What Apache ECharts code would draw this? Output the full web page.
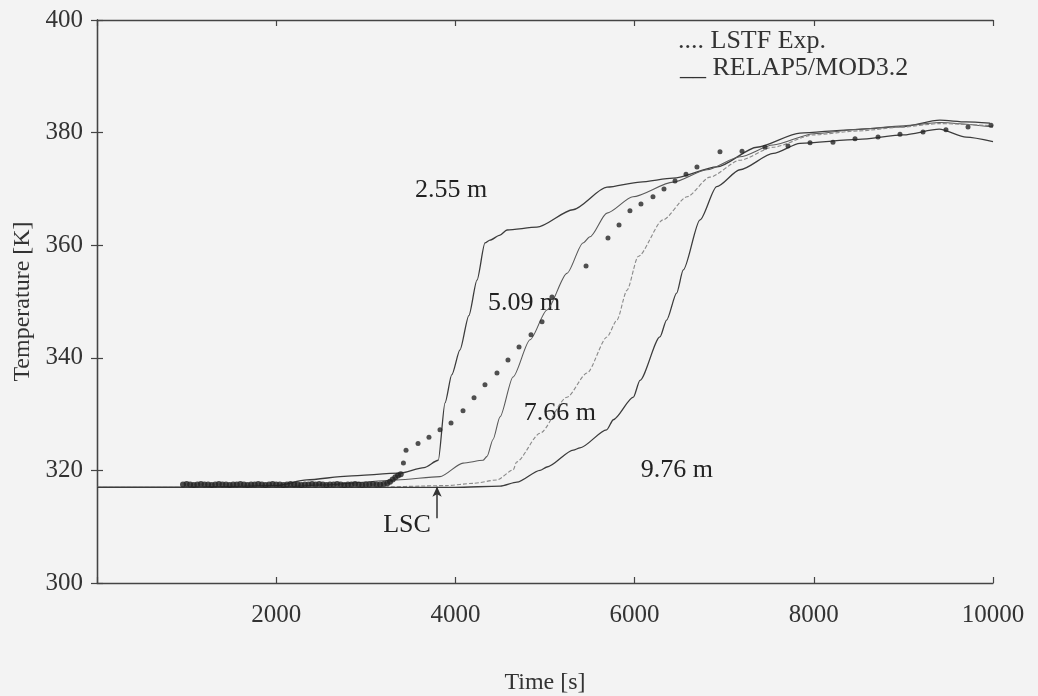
<!DOCTYPE html>
<html><head><meta charset="utf-8">
<script src="https://cdn.jsdelivr.net/npm/echarts@6/dist/echarts.min.js"></script>
<style>html,body{margin:0;padding:0;background:#f3f3f3}#c{width:1038px;height:696px}</style>
</head><body><div id="c"></div>
<script>
// ---- data (time in s, temperature in K) ----
const xTicks = [0, 2000, 4000, 6000, 8000, 10000];
const yTicks = [300, 320, 340, 360, 380, 400];

const t255 = [0, 1000, 2000, 2340, 2800, 3380, 3650, 3809, 3884, 3960, 4051, 4150, 4241, 4330, 4386, 4498, 4576, 4910, 5312, 5692, 6060, 6429, 6919, 7366, 7846, 8400, 8962, 9408, 9700, 9966];
const T255 = [317, 317, 317.3, 318.3, 319, 319.5, 320.5, 321.8, 332, 337, 341.4, 347.5, 353.8, 360.4, 360.9, 361.8, 362.7, 363.2, 366.3, 370.3, 371.2, 371.9, 373.9, 377.4, 379.9, 380.5, 381, 382.2, 381.9, 381.7];

const t509 = [0, 2000, 2500, 3348, 3828, 4085, 4308, 4353, 4420, 4498, 4643, 4833, 5022, 5245, 5424, 5502, 5692, 5982, 6429, 6808, 7176, 7545, 8000, 8500, 9000, 9400, 10000];
const T509 = [317, 317, 317.4, 318.3, 318.9, 321.3, 321.8, 322.5, 325.5, 329.5, 336.6, 343.2, 348.5, 355, 360.4, 361.5, 365.7, 368.6, 371.2, 373.4, 375.7, 377.8, 379.8, 380.6, 381.2, 381.8, 381];

const t766 = [0, 3000, 3900, 4200, 4464, 4646, 4683, 4944, 5245, 5469, 5692, 5803, 5915, 6040, 6317, 6585, 6841, 7176, 7545, 8000, 8500, 9000, 9400, 10000];
const T766 = [317, 317, 317.3, 317.7, 318.3, 320.1, 321.5, 326.6, 333, 337.3, 343.7, 346.7, 352, 358, 364.5, 368.6, 372.1, 375.1, 377.4, 379.6, 380.3, 381, 381.6, 381.2];

const t976 = [0, 4000, 4500, 4687, 4944, 5022, 5316, 5390, 5688, 5763, 5986, 6060, 6283, 6357, 6469, 6543, 6730, 6916, 7176, 7548, 7846, 8500, 9000, 9400, 9700, 10000];
const T976 = [317, 317, 317.2, 317.9, 320, 320.6, 323.6, 324, 327.2, 329, 333, 336, 343.7, 346.7, 351.5, 355.6, 364.5, 370.4, 373.4, 376.3, 378.1, 378.8, 379.6, 380.6, 379.2, 378.4];

// LSTF experiment: dense early record (thick band) and later sparse points
const tExpBand = [960, 1000, 1040, 1080, 1120, 1160, 1200, 1240, 1280, 1320, 1360, 1400, 1440, 1480, 1520, 1560, 1600, 1640, 1680, 1720, 1760, 1800, 1840, 1880, 1920, 1960, 2000, 2040, 2080, 2120, 2160, 2200, 2240, 2280, 2320, 2360, 2400, 2440, 2480, 2520, 2560, 2600, 2640, 2680, 2720, 2760, 2800, 2840, 2880, 2920, 2960, 3000, 3040, 3080, 3120, 3160, 3200, 3240, 3270, 3300, 3330, 3360, 3390];
const TExpBand = [317.5, 317.6, 317.5, 317.4, 317.5, 317.6, 317.5, 317.5, 317.4, 317.5, 317.6, 317.5, 317.5, 317.4, 317.5, 317.5, 317.6, 317.5, 317.4, 317.5, 317.5, 317.6, 317.5, 317.4, 317.5, 317.6, 317.5, 317.5, 317.4, 317.5, 317.6, 317.5, 317.5, 317.4, 317.5, 317.5, 317.6, 317.5, 317.6, 317.5, 317.4, 317.5, 317.5, 317.6, 317.5, 317.4, 317.5, 317.5, 317.6, 317.5, 317.4, 317.5, 317.5, 317.6, 317.5, 317.5, 317.6, 317.7, 318.0, 318.4, 318.8, 319.1, 319.3];
const tExp = [3420, 3449, 3583, 3705, 3828, 3951, 4085, 4208, 4330, 4464, 4587, 4710, 4844, 4967, 5078, 5458, 5703, 5826, 5948, 6071, 6205, 6328, 6451, 6574, 6696, 6953, 7199, 7455, 7712, 7958, 8214, 8460, 8717, 8962, 9219, 9475, 9721, 9978];
const TExp = [321.3, 323.6, 324.8, 325.9, 327.2, 328.4, 330.6, 332.9, 335.2, 337.3, 339.6, 341.9, 344.1, 346.4, 350.8, 356.3, 361.3, 363.6, 366.1, 367.3, 368.6, 370, 371.4, 372.6, 373.9, 376.6, 376.7, 377.4, 377.6, 378.2, 378.3, 378.9, 379.2, 379.7, 380.1, 380.5, 381, 381.3];

const annNames = ['2.55 m', '5.09 m', '7.66 m', '9.76 m', 'LSC'];
const annTime = [3951, 4766, 5167, 6473, 3460];
const annTemp = [369.8, 349.7, 330.2, 320.1, 310.3];
const lscArrow = [[3795, 311.5], [3795, 317.1]];

// ---- chart ----
const FONT = 'Liberation Serif';
const INK = '#333';
const zip = (a, b) => a.map((v, i) => [v, b[i]]);
const chart = echarts.init(document.getElementById('c'));

const axisCommon = {
  axisLine: { show: true, lineStyle: { color: '#444', width: 1.3 } },
  axisTick: { show: true, inside: true, length: 6, lineStyle: { color: '#444', width: 1.2 } },
  splitLine: { show: false }
};

const lineSeries = (name, t, T, color, width, type) => ({
  name, type: 'line', data: zip(t, T), showSymbol: false, symbol: 'none',
  smooth: 0.25, smoothMonotone: 'x',
  lineStyle: { color, width, type }, z: 3, silent: true
});

chart.setOption({
  backgroundColor: '#f3f3f3',
  animation: false,
  grid: { left: 97, right: 45, top: 20, bottom: 113, containLabel: false, outerBoundsMode: 'none' },
  xAxis: [
    Object.assign({}, axisCommon, {
      type: 'value', min: 0, max: 10000, interval: 2000, position: 'bottom',
      axisLabel: { formatter: v => (v === 0 ? '' : String(v)), fontFamily: FONT, fontSize: 25, color: INK, margin: 20 },
      name: 'Time [s]', nameLocation: 'middle', nameGap: 88,
      nameTextStyle: { fontFamily: FONT, fontSize: 24, color: INK }
    }),
    Object.assign({}, axisCommon, {
      type: 'value', min: 0, max: 10000, interval: 2000, position: 'top',
      axisLabel: { show: false }
    })
  ],
  yAxis: [
    Object.assign({}, axisCommon, {
      type: 'value', min: 300, max: 400, interval: 20, position: 'left',
      axisLabel: { fontFamily: FONT, fontSize: 25, color: INK, margin: 14 },
      name: 'Temperature [K]', nameLocation: 'middle', nameGap: 52,
      nameTextStyle: { fontFamily: FONT, fontSize: 24, color: INK }
    }),
    Object.assign({}, axisCommon, {
      type: 'value', min: 300, max: 400, interval: 20, position: 'right',
      axisLabel: { show: false }
    })
  ],
  series: [
    lineSeries('RELAP5 2.55 m', t255, T255, '#3c3c3c', 1.3, 'solid'),
    lineSeries('RELAP5 5.09 m', t509, T509, '#5a5a5a', 1.1, 'solid'),
    lineSeries('RELAP5 7.66 m', t766, T766, '#8a8a8a', 1.1, [4, 2]),
    Object.assign(lineSeries('RELAP5 9.76 m', t976, T976, '#3c3c3c', 1.3, 'solid'), {
      markLine: {
        silent: true, symbol: ['none', 'arrow'], symbolSize: [7, 10],
        label: { show: false },
        lineStyle: { color: '#333', width: 1.5, type: 'solid' },
        data: [[{ coord: lscArrow[0] }, { coord: lscArrow[1] }]]
      }
    }),
    {
      name: 'LSTF Exp. (dense)', type: 'scatter', data: zip(tExpBand, TExpBand),
      symbol: 'circle', symbolSize: 6, itemStyle: { color: '#222' }, z: 4, silent: true
    },
    {
      name: 'LSTF Exp.', type: 'scatter', data: zip(tExp, TExp),
      symbol: 'circle', symbolSize: 5, itemStyle: { color: '#262626' }, z: 4, silent: true
    },
    {
      name: 'labels', type: 'scatter', silent: true, symbolSize: 0,
      itemStyle: { color: '#222', opacity: 1 },
      data: annNames.map((n, i) => ({ name: n, value: [annTime[i], annTemp[i]] })),
      label: { show: true, position: 'inside', formatter: '{b}', fontFamily: FONT, fontSize: 26, color: '#222', opacity: 1, textBorderWidth: 0 }
    }
  ],
  graphic: [
    { type: 'text', left: 678, top: 28, style: { text: '.... LSTF Exp.', font: '26px "Liberation Serif"', fill: INK } },
    { type: 'text', left: 680, top: 55, style: { text: '__ RELAP5/MOD3.2', font: '26px "Liberation Serif"', fill: INK } }
  ]
});
</script></body></html>
